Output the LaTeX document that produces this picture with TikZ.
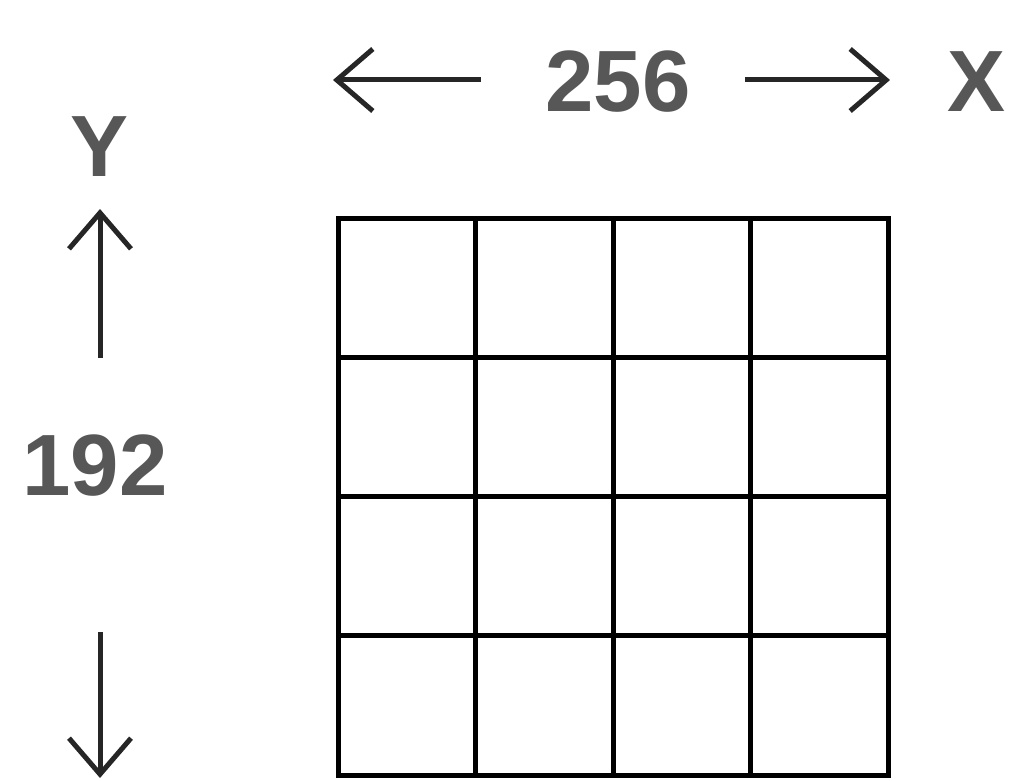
\documentclass[tikz,border=0pt]{standalone}
\usepackage{fontspec}
\setmainfont{Liberation Sans}
\usetikzlibrary{arrows.meta}
\begin{document}
\begin{tikzpicture}[x=1pt,y=-1pt,
  lbl/.style={inner sep=0pt, font=\fontsize{87}{90}\selectfont\bfseries, text=black!66},
  axisarrow/.style={line width=5pt, draw=black!85, -{Straight Barb[length=36pt,width=62pt,line width=5pt]}},
  gridline/.style={line width=5pt, draw=black, line cap=rect}]
\useasboundingbox (0,0) rectangle (1017,781);
% labels
\node[lbl] (n256) at (618,82) {256};
\node[lbl] (nx) at (977,82) {X};
\node[lbl] (ny) at (100,147) {Y};
\node[lbl] (n192) at (95,466) {192};
% arrow endpoints
\coordinate (lt) at (333,80);
\coordinate (ls) at (481,80);
\coordinate (rs) at (745,80);
\coordinate (rt) at (890,80);
\coordinate (us) at (100,358);
\coordinate (ut) at (100,209);
\coordinate (ds) at (100,632);
\coordinate (dt) at (100,778);
\draw[axisarrow] (ls) -- (lt);
\draw[axisarrow] (rs) -- (rt);
\draw[axisarrow] (us) -- (ut);
\draw[axisarrow] (ds) -- (dt);
% grid
\foreach \i in {0,...,4} {
  \draw[gridline] ({338+137.5*\i},218) -- ({338+137.5*\i},775);
  \draw[gridline] (338,{218+139.25*\i}) -- (888,{218+139.25*\i});
}
\end{tikzpicture}
\end{document}
